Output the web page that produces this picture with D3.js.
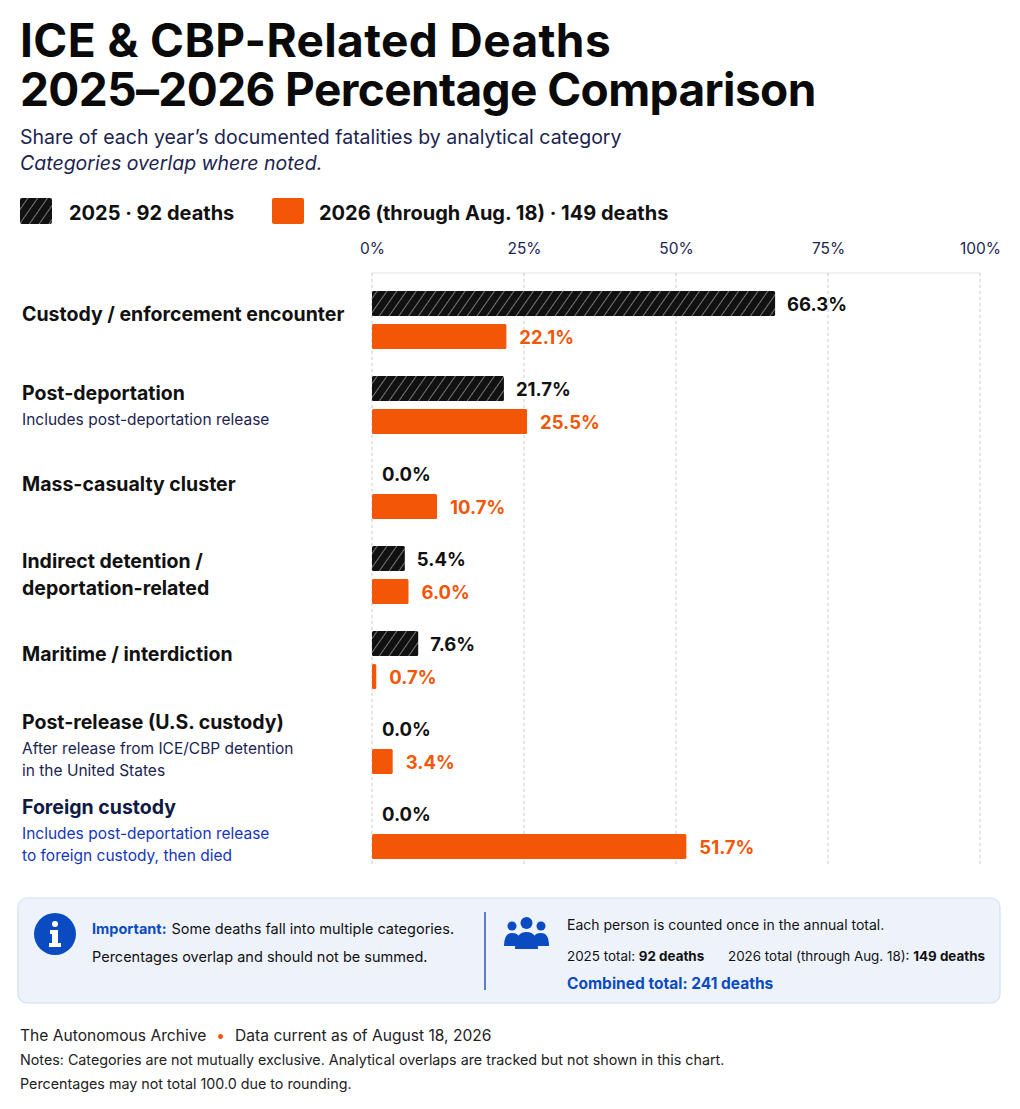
<!doctype html>
<html lang="en">
  <head>
    <meta charset="utf-8">
    <title>ICE & CBP-Related Deaths</title>
    <script src="https://cdn.jsdelivr.net/npm/d3@7"></script>
    <style>
      body { margin: 0; background: #fff; }
      svg { font-family: Inter, "Noto Sans", sans-serif; }
    </style>
  </head>
  <body>
    <script>

      // data
      var categories = [
        "Custody / enforcement encounter",
        "Post-deportation",
        "Mass-casualty cluster",
        "Indirect detention / deportation-related",
        "Maritime / interdiction",
        "Post-release (U.S. custody)",
        "Foreign custody"
      ];
      var titleLines = [
        ["Custody / enforcement encounter"],
        ["Post-deportation"],
        ["Mass-casualty cluster"],
        ["Indirect detention /", "deportation-related"],
        ["Maritime / interdiction"],
        ["Post-release (U.S. custody)"],
        ["Foreign custody"]
      ];
      var noteLines = [
        [],
        ["Includes post-deportation release"],
        [],
        [],
        [],
        ["After release from ICE/CBP detention", "in the United States"],
        ["Includes post-deportation release", "to foreign custody, then died"]
      ];
      var values2025 = [66.3, 21.7, 0.0, 5.4, 7.6, 0.0, 0.0];
      var values2026 = [22.1, 25.5, 10.7, 6.0, 0.7, 3.4, 51.7];
      var ticks = [0, 25, 50, 75, 100];
      var seriesNames = ["2025 · 92 deaths", "2026 (through Aug. 18) · 149 deaths"];

      var orange = "#f25606",
          navy = "#1b2450",
          blue = "#0b4bc2";

      var width = 1020, height = 1109;

      var svg = d3.select("body").append("svg")
          .attr("width", width)
          .attr("height", height);

      var defs = svg.append("defs");
      var pat = defs.append("pattern")
          .attr("id", "hatch")
          .attr("patternUnits", "userSpaceOnUse")
          .attr("width", 8).attr("height", 8)
          .attr("patternTransform", "rotate(35)");
      pat.append("rect").attr("width", 8).attr("height", 8).attr("fill", "#111");
      pat.append("line").attr("x1", 0).attr("y1", 0).attr("x2", 0).attr("y2", 8)
          .attr("stroke", "#bbb").attr("stroke-width", 1.2);

      // title block
      svg.append("text").attr("x", 20).attr("y", 57)
          .attr("font-size", 46).attr("font-weight", 700).attr("fill", "#0a0a0a")
          .attr("letter-spacing", 0.4)
          .text("ICE & CBP-Related Deaths");
      svg.append("text").attr("x", 20).attr("y", 106)
          .attr("font-size", 46).attr("font-weight", 700).attr("fill", "#0a0a0a")
          .attr("letter-spacing", -0.6)
          .text("2025–2026 Percentage Comparison");
      svg.append("text").attr("x", 20).attr("y", 144)
          .attr("font-size", 19.5).attr("fill", navy)
          .text("Share of each year’s documented fatalities by analytical category");
      svg.append("text").attr("x", 20).attr("y", 170)
          .attr("font-size", 19.5).attr("font-style", "italic").attr("fill", navy)
          .text("Categories overlap where noted.");

      // legend
      var legend = svg.append("g");
      legend.append("rect").attr("x", 20).attr("y", 198).attr("width", 32).attr("height", 26)
          .attr("rx", 2).attr("fill", "url(#hatch)");
      legend.append("text").attr("x", 69).attr("y", 220)
          .attr("font-size", 20).attr("font-weight", 700).attr("fill", "#111")
          .text(seriesNames[0]);
      legend.append("rect").attr("x", 272).attr("y", 198).attr("width", 32).attr("height", 26)
          .attr("rx", 2).attr("fill", orange);
      legend.append("text").attr("x", 319).attr("y", 220)
          .attr("font-size", 20).attr("font-weight", 700).attr("fill", "#111")
          .text(seriesNames[1]);

      // scales
      var x = d3.scaleLinear().domain([0, 100]).range([372, 980]);
      var y = d3.scaleBand().domain(categories).range([285, 880]).paddingInner(0).paddingOuter(0);
      var barH = 25, gap = 8;

      // grid + axis labels
      var chartTop = 273, chartBottom = 866;
      svg.append("line").attr("x1", x(0)).attr("x2", x(100))
          .attr("y1", chartTop).attr("y2", chartTop)
          .attr("stroke", "#e4e4e4").attr("stroke-width", 1);
      svg.append("g").selectAll("line").data(ticks).join("line")
          .attr("x1", d => x(d)).attr("x2", d => x(d))
          .attr("y1", chartTop).attr("y2", chartBottom)
          .attr("stroke", "#c9c9c9").attr("stroke-width", 1)
          .attr("stroke-dasharray", "3,3");

      var axis = d3.axisTop(x).tickValues(ticks).tickFormat(d => d + "%").tickSize(0);
      var axisG = svg.append("g").attr("transform", "translate(0,257)").call(axis);
      axisG.select(".domain").remove();
      axisG.selectAll("text")
          .attr("font-family", "Inter, sans-serif")
          .attr("font-size", 15.5).attr("fill", navy);

      // category groups
      var groups = svg.append("g").selectAll("g").data(categories).join("g")
          .attr("transform", d => "translate(0," + y(d) + ")");

      var bandOffset = 6;

      groups.each(function(d, i) {
        var g = d3.select(this);
        var top1 = bandOffset, top2 = bandOffset + barH + gap;
        var center = (top1 + top2 + barH) / 2;

        // label block
        var t = titleLines[i], n = noteLines[i];
        var lines = [];
        t.forEach(s => lines.push({s: s, kind: "title"}));
        n.forEach(s => lines.push({s: s, kind: "note"}));
        var hts = lines.map(l => l.kind === "title" ? 27 : 22.5);
        var total = d3.sum(hts);
        var yy = center - total / 2 - (lines.length === 1 ? 6 : 0);
        var foreign = i === categories.length - 1;
        lines.forEach(function(l, k) {
          var size = l.kind === "title" ? 19.5 : 15.5;
          yy += hts[k];
          g.append("text")
              .attr("x", 22)
              .attr("y", yy - (l.kind === "title" ? 7 : 5))
              .attr("font-size", size)
              .attr("font-weight", l.kind === "title" ? 700 : 400)
              .attr("fill", l.kind === "title" ? (foreign ? "#0f1a45" : "#111") : (foreign ? "#1537b8" : navy))
              .text(l.s);
        });

        var v1 = values2025[i], v2 = values2026[i];
        if (v1 > 0) {
          g.append("rect").attr("x", x(0)).attr("y", top1)
              .attr("width", x(v1) - x(0)).attr("height", barH)
              .attr("rx", 1.5).attr("fill", "url(#hatch)");
        }
        g.append("text")
            .attr("x", v1 > 0 ? x(v1) + 12 : x(0) + 10)
            .attr("y", top1 + barH / 2 + 7)
            .attr("font-size", 18.5).attr("font-weight", 700).attr("fill", "#111")
            .text(v1.toFixed(1) + "%");

        g.append("rect").attr("x", x(0)).attr("y", top2)
            .attr("width", x(v2) - x(0)).attr("height", barH)
            .attr("rx", 1.5).attr("fill", orange);
        g.append("text")
            .attr("x", x(v2) + 13)
            .attr("y", top2 + barH / 2 + 7)
            .attr("font-size", 18.5).attr("font-weight", 700).attr("fill", orange)
            .text(v2.toFixed(1) + "%");
      });

      // info box
      var box = svg.append("g");
      box.append("rect").attr("x", 18).attr("y", 898).attr("width", 982).attr("height", 105)
          .attr("rx", 9).attr("fill", "#eef3fb").attr("stroke", "#d3e0f4").attr("stroke-width", 1.2);
      box.append("circle").attr("cx", 55).attr("cy", 934).attr("r", 21).attr("fill", blue);
      box.append("circle").attr("cx", 55).attr("cy", 924).attr("r", 3).attr("fill", "#fff");
      box.append("path").attr("d", "M50,930 H58 V943 H61 V947 H49 V943 H52 V934 H50 Z").attr("fill", "#fff");

      var t1 = box.append("text").attr("x", 92).attr("y", 934).attr("font-size", 14.5).attr("fill", "#111");
      t1.append("tspan").attr("font-weight", 700).attr("fill", blue).text("Important:");
      t1.append("tspan").attr("dx", 5).text("Some deaths fall into multiple categories.");
      box.append("text").attr("x", 92).attr("y", 962).attr("font-size", 14.5).attr("fill", "#111")
          .text("Percentages overlap and should not be summed.");

      box.append("line").attr("x1", 485).attr("x2", 485).attr("y1", 912).attr("y2", 990)
          .attr("stroke", "#2f58b0").attr("stroke-width", 1.5);

      // people icon
      var ppl = box.append("g").attr("fill", blue);
      ppl.append("circle").attr("cx", 512).attr("cy", 926).attr("r", 4.5);
      ppl.append("circle").attr("cx", 541).attr("cy", 926).attr("r", 4.5);
      ppl.append("circle").attr("cx", 526.5).attr("cy", 923).attr("r", 6);
      ppl.append("path").attr("d", "M504,946 Q504,933 512,933 Q518,933 519,937 L519,946 Z");
      ppl.append("path").attr("d", "M549,946 Q549,933 541,933 Q535,933 534,937 L534,946 Z");
      ppl.append("path").attr("d", "M515,949 Q515,932 526.5,932 Q538,932 538,949 Z");

      box.append("text").attr("x", 567).attr("y", 930).attr("font-size", 14).attr("fill", "#111")
          .text("Each person is counted once in the annual total.");
      var t2 = box.append("text").attr("x", 567).attr("y", 961).attr("font-size", 13.4).attr("fill", "#111");
      t2.append("tspan").text("2025 total: ");
      t2.append("tspan").attr("font-weight", 700).text("92 deaths");
      var t3 = box.append("text").attr("x", 728).attr("y", 961).attr("font-size", 13.4).attr("fill", "#111");
      t3.append("tspan").text("2026 total (through Aug. 18): ");
      t3.append("tspan").attr("font-weight", 700).text("149 deaths");
      box.append("text").attr("x", 567).attr("y", 989).attr("font-size", 15.5)
          .attr("font-weight", 700).attr("fill", blue)
          .text("Combined total: 241 deaths");

      // footer
      var f1 = svg.append("text").attr("x", 20).attr("y", 1041).attr("font-size", 15.6).attr("fill", "#222");
      f1.append("tspan").text("The Autonomous Archive");
      f1.append("tspan").attr("fill", orange).attr("dx", 10).text("•");
      f1.append("tspan").attr("dx", 10).text("Data current as of August 18, 2026");
      svg.append("text").attr("x", 20).attr("y", 1065).attr("font-size", 14.3).attr("fill", "#222")
          .text("Notes: Categories are not mutually exclusive. Analytical overlaps are tracked but not shown in this chart.");
      svg.append("text").attr("x", 20).attr("y", 1089).attr("font-size", 14.3).attr("fill", "#222")
          .text("Percentages may not total 100.0 due to rounding.");

    </script>
  </body>
</html>
